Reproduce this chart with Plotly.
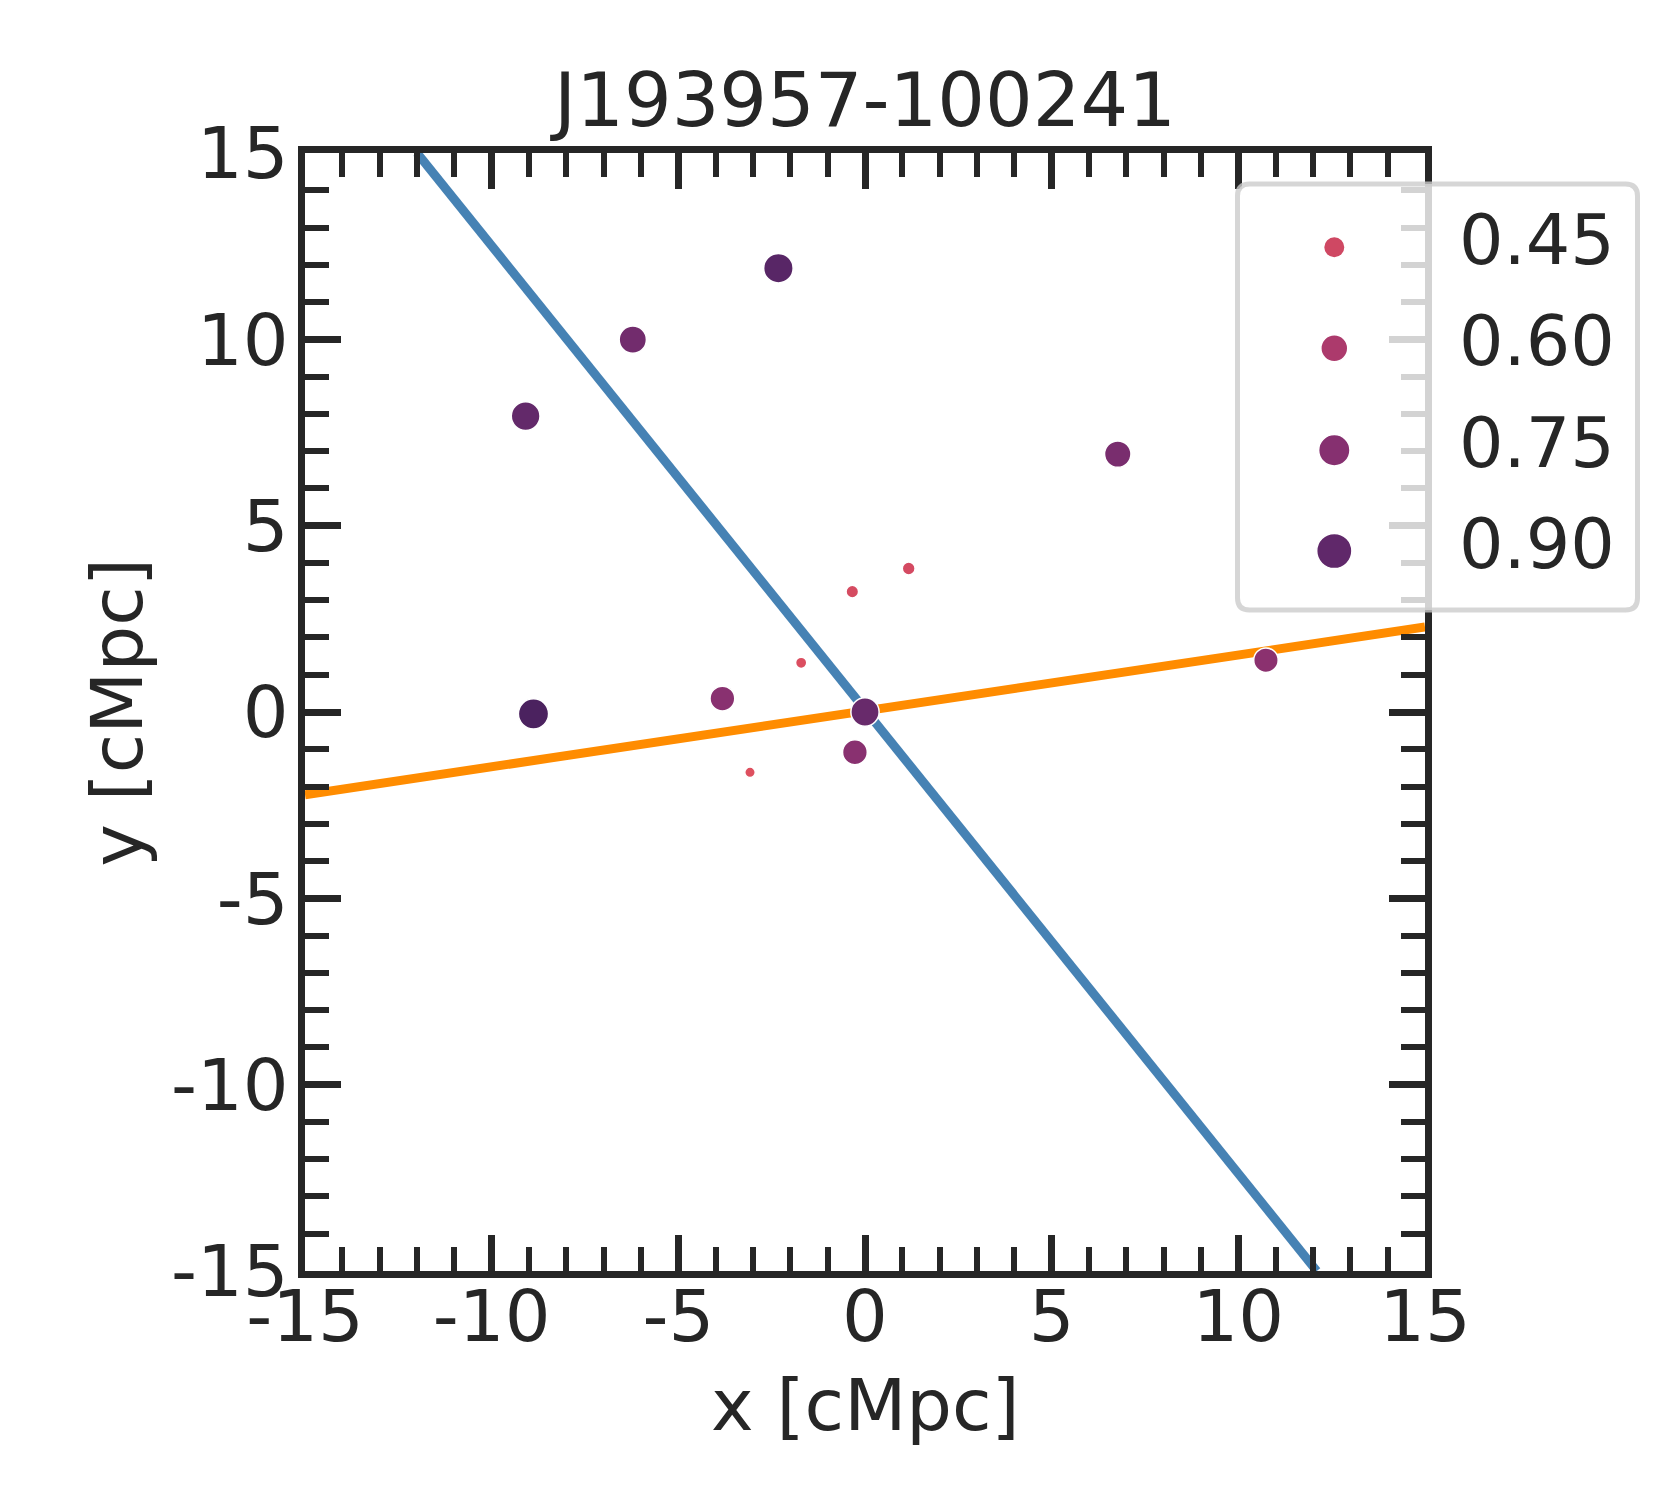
import math
import plotly.graph_objects as go
from plotly.colors import sample_colorscale

# ---------------- data ----------------
title_text = "J193957-100241"
x_label = "x [cMpc]"
y_label = "y [cMpc]"

gal_x = [-2.32, -6.22, -9.09, 6.77, 1.17, -0.34, -1.71, 10.74, -3.82, -8.88, 0.0, -0.27, -3.08]
gal_y = [11.91, 9.99, 7.94, 6.92, 3.85, 3.23, 1.32, 1.39, 0.36, -0.05, 0.0, -1.08, -1.62]
gal_v = [0.92, 0.83, 0.89, 0.80, 0.435, 0.43, 0.41, 0.73, 0.74, 0.95, 0.87, 0.74, 0.40]

blue_x = [-12.0, 12.1]
blue_y = [15.0, -15.0]
orange_x = [-15.0, 15.0]
orange_y = [-2.22, 2.28]

tick_vals = [-15, -10, -5, 0, 5, 10, 15]
tick_text = ["-15", "-10", "-5", "0", "5", "10", "15"]

legend_vals = [0.45, 0.60, 0.75, 0.90]
legend_text = ["0.45", "0.60", "0.75", "0.90"]

# ---------------- style / scales ----------------
OFF = 8  # default page body margin of the html page
W, H = 1680 - OFF, 1500 - OFF
ML, MR, MT, MB = 305 - OFF, 255, 153 - OFF, 229
PW, PH = W - ML - MR, H - MT - MB
INK = "#262626"
FONT = "DejaVu Sans"
LW_EDGE = 1.5

VMIN, VMAX = 0.40, 0.95
anchor_v = [0.40, 0.45, 0.60, 0.75, 0.90, 0.95]
anchor_c = ["rgb(222,80,95)", "rgb(207,72,99)", "rgb(172,58,108)",
            "rgb(134,48,112)", "rgb(96,40,106)", "rgb(75,34,95)"]
cscale = [[(v - VMIN) / (VMAX - VMIN), c] for v, c in zip(anchor_v, anchor_c)]


def point_size(v):  # area-linear size scale (px diameter of the coloured disc)
    return math.sqrt(81 + 1352 * (v - 0.40)) + LW_EDGE


def legend_size(v):
    return math.sqrt(400 + 1640 * (v - 0.45)) + LW_EDGE


def px2x(px):  # page pixel -> paper fraction
    return (px - OFF - ML) / PW


def py2y(py):
    return 1 - (py - OFF - MT) / PH


fig = go.Figure()
fig.add_trace(go.Scatter(x=blue_x, y=blue_y, mode="lines",
                         line=dict(color="#4682b4", width=9), showlegend=False,
                         hoverinfo="skip"))
fig.add_trace(go.Scatter(x=orange_x, y=orange_y, mode="lines",
                         line=dict(color="#ff8c00", width=9), showlegend=False,
                         hoverinfo="skip"))
fig.add_trace(go.Scatter(
    x=gal_x, y=gal_y, mode="markers", showlegend=False,
    marker=dict(size=[point_size(v) for v in gal_v], color=gal_v,
                colorscale=cscale, cmin=VMIN, cmax=VMAX,
                line=dict(color="white", width=LW_EDGE), opacity=1),
))

axis_common = dict(
    range=[-15, 15], tickmode="array", tickvals=tick_vals, ticktext=tick_text,
    ticks="inside", ticklen=36, tickwidth=7, tickcolor=INK,
    showline=True, linewidth=7, linecolor=INK, mirror="ticks",
    showgrid=False, zeroline=False,
    tickfont=dict(family=FONT, size=72, color=INK),
    minor=dict(ticks="inside", ticklen=24, tickwidth=6, tickcolor=INK,
               tick0=0, dtick=1, showgrid=False),
)
xaxis = dict(axis_common, ticklabelstandoff=-23)
yaxis = dict(axis_common, ticklabelstandoff=-5)

shapes = []
# legend frame (rounded, semi-transparent)
box_cx, box_cy = 1437.5, 397
hw, hh, rr = 200, 213, 12
path = (f"M {-hw+rr},{-hh} L {hw-rr},{-hh} Q {hw},{-hh} {hw},{-hh+rr} "
        f"L {hw},{hh-rr} Q {hw},{hh} {hw-rr},{hh} L {-hw+rr},{hh} "
        f"Q {-hw},{hh} {-hw},{hh-rr} L {-hw},{-hh+rr} Q {-hw},{-hh} {-hw+rr},{-hh} Z")
shapes.append(dict(type="path", xref="paper", yref="paper",
                   xsizemode="pixel", ysizemode="pixel",
                   xanchor=px2x(box_cx), yanchor=py2y(box_cy), path=path,
                   fillcolor="rgba(255,255,255,0.8)",
                   line=dict(color="rgba(204,204,204,0.8)", width=5),
                   layer="above"))

leg_marker_x = 1334.3
leg_marker_y = [247.3, 348.3, 450.3, 551.0]
leg_text_x = 1457
leg_text_dy = -7
leg_colors = sample_colorscale(cscale, [(v - VMIN) / (VMAX - VMIN) for v in legend_vals])

annotations = []
for v, lab, my, col in zip(legend_vals, legend_text, leg_marker_y, leg_colors):
    r = legend_size(v) / 2
    shapes.append(dict(type="circle", xref="paper", yref="paper",
                       xsizemode="pixel", ysizemode="pixel",
                       xanchor=px2x(leg_marker_x), yanchor=py2y(my),
                       x0=-r, x1=r, y0=-r, y1=r,
                       fillcolor=col, line=dict(color="white", width=LW_EDGE),
                       layer="above"))
    annotations.append(dict(text=lab, xref="paper", yref="paper",
                            x=px2x(leg_text_x), y=py2y(my + leg_text_dy),
                            xanchor="left", yanchor="middle", showarrow=False,
                            font=dict(family=FONT, size=70, color=INK)))

# axis titles
annotations.append(dict(text=x_label, xref="paper", yref="paper",
                        x=0.5, y=py2y(1405), xanchor="center", yanchor="middle",
                        showarrow=False, font=dict(family=FONT, size=72, color=INK)))
annotations.append(dict(text=y_label, xref="paper", yref="paper",
                        x=px2x(116.8), y=0.5, xanchor="center", yanchor="middle",
                        textangle=-90, showarrow=False,
                        font=dict(family=FONT, size=72, color=INK)))

fig.update_layout(
    width=W, height=H,
    margin=dict(l=ML, r=MR, t=MT, b=MB, pad=0),
    paper_bgcolor="white", plot_bgcolor="white",
    title=dict(text=title_text, xref="paper", x=0.5, xanchor="center",
               yref="container", y=1 - (126 - OFF) / H, yanchor="bottom",
               font=dict(family=FONT, size=75, color=INK)),
    xaxis=xaxis,
    yaxis=yaxis,
    shapes=shapes,
    annotations=annotations,
    showlegend=False,
)

fig.write_html("out.html")
